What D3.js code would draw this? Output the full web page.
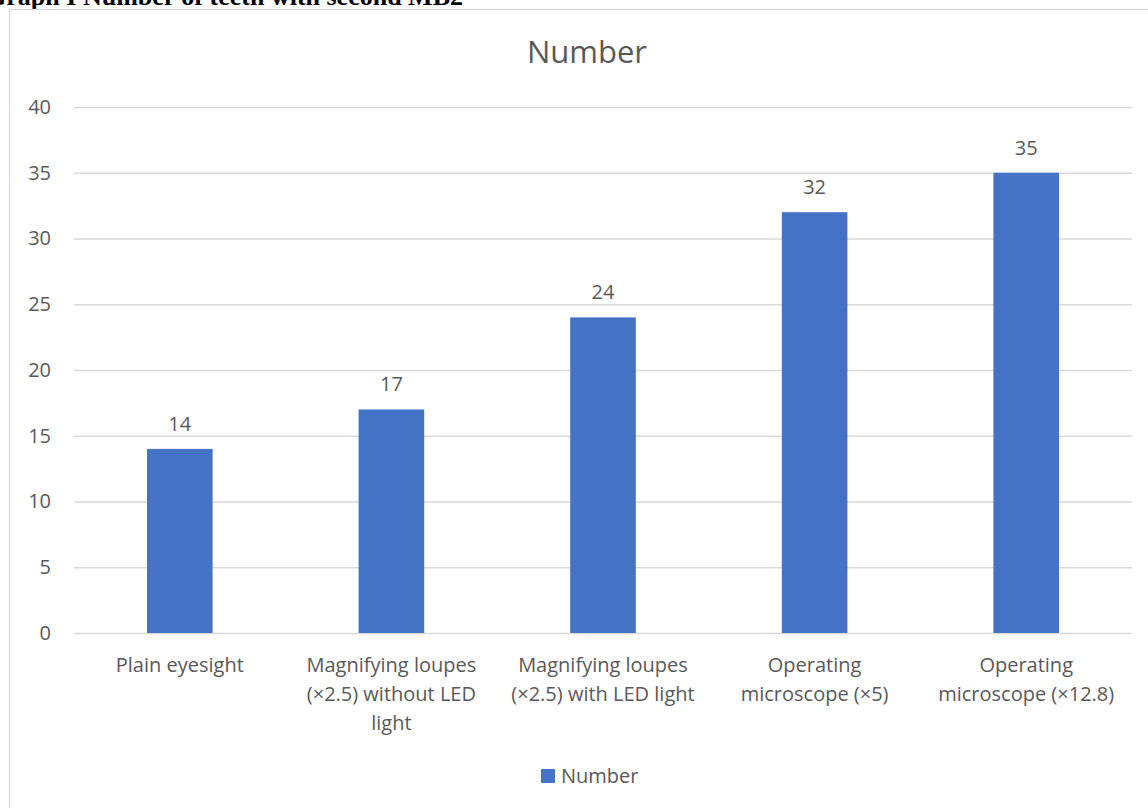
<!DOCTYPE html>
<html>
<head>
  <meta charset="UTF-8">
  <script src="https://d3js.org/d3.v7.min.js"></script>
  <style>
    body { margin: 0; background: #fff; }
    svg { display: block; }
    text { font-family: "Open Sans", sans-serif; fill: #595959; }
  </style>
</head>
<body>
  <script>
    // chart values
    var categories = [
      "Plain eyesight",
      "Magnifying loupes (×2.5) without LED light",
      "Magnifying loupes (×2.5) with LED light",
      "Operating microscope (×5)",
      "Operating microscope (×12.8)"
    ];
    // how the axis labels break into lines
    var categoryLines = [
      ["Plain eyesight"],
      ["Magnifying loupes", "(×2.5) without LED", "light"],
      ["Magnifying loupes", "(×2.5) with LED light"],
      ["Operating", "microscope (×5)"],
      ["Operating", "microscope (×12.8)"]
    ];
    var values = [14, 17, 24, 32, 35];
    var yTicks = [0, 5, 10, 15, 20, 25, 30, 35, 40];
    var seriesName = "Number";
    var heading = "Graph I Number of teeth with second MB2";

    var width = 1148;
    var height = 808;
    var svg = d3.select("body")
      .append("svg")
      .attr("width", width)
      .attr("height", height);

    // heading above the chart, cut off at the page edge like the scan
    svg.append("text")
      .attr("x", 463)
      .attr("y", 5)
      .attr("text-anchor", "end")
      .style("font-family", "'Liberation Serif', serif")
      .style("font-weight", "bold")
      .style("font-size", "26px")
      .style("fill", "#000")
      .text(heading);

    // chart border (runs past the right and bottom edges)
    svg.append("rect")
      .attr("x", 9.5)
      .attr("y", 9.5)
      .attr("width", 1200)
      .attr("height", 900)
      .attr("fill", "none")
      .attr("stroke", "#d9d9d9")
      .attr("stroke-width", 1.3);

    // scales
    var x = d3.scaleBand()
      .domain(categories)
      .range([74, 1132])
      .paddingInner(0.69)
      .paddingOuter(0.345);

    var y = d3.scaleLinear()
      .domain([0, 40])
      .range([633, 107]);

    // gridlines
    svg.append("g")
      .selectAll("line")
      .data(yTicks)
      .enter()
      .append("line")
      .attr("x1", 74)
      .attr("x2", 1132)
      .attr("y1", function(d) { return y(d) + 0.5; })
      .attr("y2", function(d) { return y(d) + 0.5; })
      .attr("stroke", "#d9d9d9")
      .attr("stroke-width", 1.3);

    // y axis labels
    var yAxis = svg.append("g")
      .attr("transform", "translate(51,0)")
      .call(d3.axisLeft(y).tickValues(yTicks).tickSize(0).tickPadding(0));
    yAxis.select(".domain").remove();
    yAxis.selectAll("text")
      .style("font-size", "20px")
      .style("font-family", "'Open Sans', sans-serif")
      .attr("fill", "#595959");

    // bars
    svg.append("g")
      .selectAll("rect")
      .data(values)
      .enter()
      .append("rect")
      .attr("x", function(d, i) { return x(categories[i]); })
      .attr("y", function(d) { return y(d); })
      .attr("width", x.bandwidth())
      .attr("height", function(d) { return y(0) - y(d); })
      .attr("fill", "#4472c4");

    // value labels
    svg.append("g")
      .selectAll("text")
      .data(values)
      .enter()
      .append("text")
      .attr("x", function(d, i) { return x(categories[i]) + x.bandwidth() / 2; })
      .attr("y", function(d) { return y(d) - 18; })
      .attr("text-anchor", "middle")
      .style("font-size", "20px")
      .text(function(d) { return d; });

    // category labels
    var catLabels = svg.append("g")
      .selectAll("text")
      .data(categories)
      .enter()
      .append("text")
      .attr("text-anchor", "middle")
      .attr("x", function(d) { return x(d) + x.bandwidth() / 2; })
      .attr("y", 672)
      .style("font-size", "20px");

    catLabels.each(function(d, i) {
      var t = d3.select(this);
      var cx = x(d) + x.bandwidth() / 2;
      categoryLines[i].forEach(function(line, j) {
        t.append("tspan")
          .attr("x", cx)
          .attr("dy", j === 0 ? 0 : 29)
          .text(line);
      });
    });

    // title
    svg.append("text")
      .attr("x", 587)
      .attr("y", 63)
      .attr("text-anchor", "middle")
      .style("font-size", "31px")
      .text(seriesName);

    // legend
    var legend = svg.append("g").attr("class", "legend");
    legend.append("rect")
      .attr("x", 541)
      .attr("y", 769)
      .attr("width", 14)
      .attr("height", 14)
      .attr("fill", "#4472c4");
    legend.append("text")
      .attr("x", 561)
      .attr("y", 783)
      .style("font-size", "20px")
      .text(seriesName);
  </script>
</body>
</html>
